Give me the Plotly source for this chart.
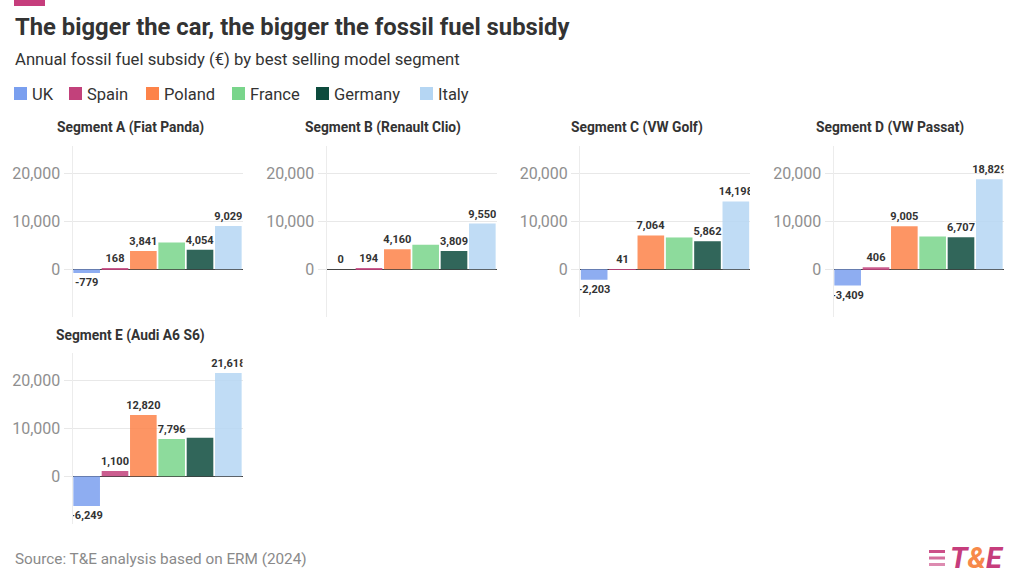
import plotly.graph_objects as go

# ---------------- data ----------------
countries = ["UK", "Spain", "Poland", "France", "Germany", "Italy"]
segments = ["Segment A (Fiat Panda)", "Segment B (Renault Clio)", "Segment C (VW Golf)",
            "Segment D (VW Passat)", "Segment E (Audi A6 S6)"]
uk = [-779, 0, -2203, -3409, -6249]
spain = [168, 194, 41, 406, 1100]
poland = [3841, 4160, 7064, 9005, 12820]
france = [5600, 5100, 6650, 6850, 7796]
germany = [4054, 3809, 5862, 6707, 8050]
italy = [9029, 9550, 14198, 18829, 21618]
# data labels that are displayed in the source chart (1 = shown)
label_uk = [1, 1, 1, 1, 1]
label_spain = [1, 1, 1, 1, 1]
label_poland = [1, 1, 1, 1, 1]
label_france = [0, 0, 0, 0, 1]
label_germany = [1, 1, 1, 1, 0]
label_italy = [1, 1, 1, 1, 1]
tick_vals = [0, 10000, 20000]
tick_text = ["0", "10,000", "20,000"]

title = "The bigger the car, the bigger the fossil fuel subsidy"
subtitle = "Annual fossil fuel subsidy (€) by best selling model segment"
source = "Source: T&E analysis based on ERM (2024)"

# ---------------- styles ----------------
colors = ["#7a9fef", "#c2417b", "#fd8349", "#79d58b", "#0d4b3d", "#b5d6f3"]
W, H = 1020, 587
FONT = "Roboto"
TXT = "#333333"


def fx(px):
    return px / W


def fy(py):
    return 1 - py / H


series = [uk, spain, poland, france, germany, italy]
labels = [label_uk, label_spain, label_poland, label_france, label_germany, label_italy]

panel_left = [72.5, 326.5, 580, 833.5, 72.5]
panel_top = [146, 146, 146, 146, 353]
panel_w, panel_h = 170, 171
title_cx = [130, 383, 637, 890, 130]

fig = go.Figure()
layout_axes = {}
annotations = []

for i, seg in enumerate(segments):
    vals = [s[i] for s in series]
    txt = [f"{v:,}" if lab[i] else "" for v, lab in zip(vals, labels)]
    n = "" if i == 0 else str(i + 1)
    fig.add_trace(go.Bar(
        x=countries, y=vals, text=txt,
        textposition="outside", constraintext="none", cliponaxis=True,
        textfont=dict(family=FONT, size=11, color=TXT, weight="bold"),
        marker=dict(color=colors, opacity=0.85, line=dict(width=0)),
        xaxis="x" + n, yaxis="y" + n, showlegend=False, hoverinfo="skip",
    ))
    x0, y0 = panel_left[i], panel_top[i]
    layout_axes["xaxis" + n] = dict(
        domain=[fx(x0), fx(x0 + panel_w)], anchor="y" + n, range=[-0.5, 5.5],
        visible=False, fixedrange=True,
    )
    layout_axes["yaxis" + n] = dict(
        domain=[fy(y0 + panel_h), fy(y0)], anchor="x" + n, range=[-10000, 25800],
        tickvals=tick_vals, ticktext=tick_text,
        tickfont=dict(family=FONT, size=16, color="#8f8f8f"),
        showgrid=True, gridcolor="#e8e8e8", gridwidth=1,
        zeroline=True, zerolinecolor="#444444", zerolinewidth=1,
        showline=True, linecolor="#ececec", linewidth=1,
        ticks="outside", ticklen=8, tickcolor="#e8e8e8",
        fixedrange=True,
    )
    annotations.append(dict(
        text=f"<b>{seg}</b>", x=fx(title_cx[i]), y=fy(y0 - 18),
        xref="paper", yref="paper", xanchor="center", yanchor="middle",
        showarrow=False, font=dict(family=FONT, size=13.8, color=TXT),
    ))

# title, subtitle, source
annotations.append(dict(text=f"<b>{title}</b>", x=fx(13), y=fy(27), xref="paper", yref="paper",
                        xanchor="left", yanchor="middle", showarrow=False,
                        font=dict(family=FONT, size=23.8, color=TXT)))
annotations.append(dict(text=subtitle, x=fx(13), y=fy(60), xref="paper", yref="paper",
                        xanchor="left", yanchor="middle", showarrow=False,
                        font=dict(family=FONT, size=16.7, color=TXT)))
annotations.append(dict(text=source, x=fx(13), y=fy(559), xref="paper", yref="paper",
                        xanchor="left", yanchor="middle", showarrow=False,
                        font=dict(family=FONT, size=15.3, color="#8a8a8a")))

shapes = []
# accent bar top-left
shapes.append(dict(type="rect", xref="paper", yref="paper", x0=fx(14), x1=fx(45), y0=fy(6), y1=fy(0),
                   fillcolor="#c63d7c", line=dict(width=0)))

# custom legend
legend_x = [14, 69, 146, 232, 316, 420]
for c, col, lx in zip(countries, colors, legend_x):
    shapes.append(dict(type="rect", xref="paper", yref="paper", x0=fx(lx), x1=fx(lx + 13),
                       y0=fy(100), y1=fy(87), fillcolor=col, line=dict(width=0)))
    annotations.append(dict(text=c, x=fx(lx + 16), y=fy(94), xref="paper", yref="paper",
                            xanchor="left", yanchor="middle", showarrow=False,
                            font=dict(family=FONT, size=16.5, color=TXT)))

# T&E logo
for k, (yy, op) in enumerate([(550, 0.9), (556.5, 0.75), (563, 0.6)]):
    shapes.append(dict(type="rect", xref="paper", yref="paper", x0=fx(929), x1=fx(945),
                       y0=fy(yy + 3), y1=fy(yy), fillcolor="#c63d7c", opacity=op,
                       line=dict(width=0)))
annotations.append(dict(
    text="<b><i><span style='color:#c63d7c'>T</span><span style='color:#f7894a'>&amp;</span>"
         "<span style='color:#c63d7c'>E</span></i></b>",
    x=fx(1006), y=fy(558), xref="paper", yref="paper", xanchor="right", yanchor="middle",
    showarrow=False, font=dict(family=FONT, size=29)))

fig.update_layout(
    width=W, height=H, margin=dict(l=0, r=0, t=0, b=0),
    paper_bgcolor="white", plot_bgcolor="white",
    bargap=0.06, annotations=annotations, shapes=shapes,
    font=dict(family=FONT, color=TXT),
    **layout_axes,
)

fig.write_html("out.html", config={"displayModeBar": False},
               post_script="document.body.style.margin='0';")
